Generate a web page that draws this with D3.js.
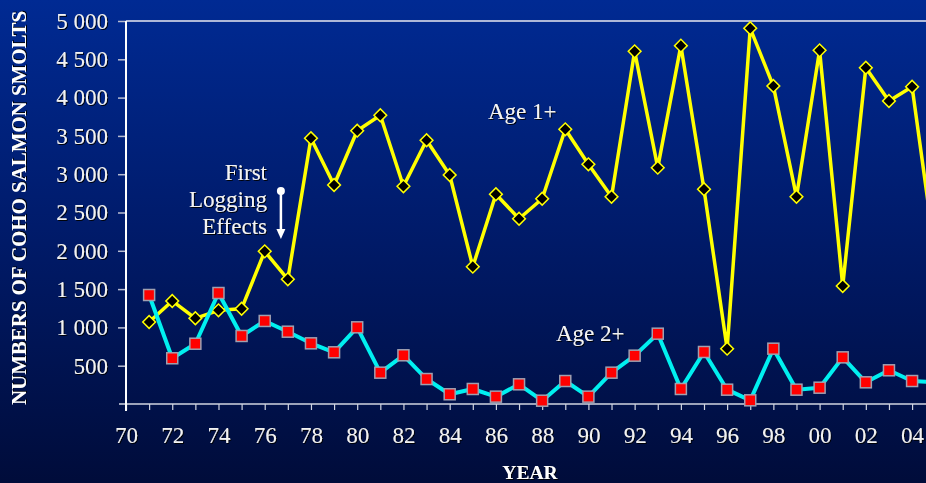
<!DOCTYPE html>
<html>
<head>
<meta charset="utf-8">
<script src="https://cdn.jsdelivr.net/npm/d3@7"></script>
<style>
  html, body { margin: 0; padding: 0; background: #000d3d; overflow: hidden; }
  svg { display: block; font-family: "Liberation Serif", "Times New Roman", serif; }
</style>
</head>
<body>
<script>
//==============================================================================
// DATA
//==============================================================================

const years = [1971, 1972, 1973, 1974, 1975, 1976, 1977, 1978, 1979, 1980,
  1981, 1982, 1983, 1984, 1985, 1986, 1987, 1988, 1989, 1990,
  1991, 1992, 1993, 1994, 1995, 1996, 1997, 1998, 1999, 2000,
  2001, 2002, 2003, 2004, 2005];

const age1 = [1070, 1345, 1119, 1223, 1244, 1993, 1628, 3469, 2859, 3568,
  3769, 2842, 3443, 2990, 1793, 2738, 2419, 2680, 3586, 3129,
  2706, 4604, 3085, 4678, 2803, 722, 4905, 4151, 2706, 4617,
  1540, 4390, 3956, 4142, 1950];

const age2 = [1423, 597, 787, 1449, 888, 1084, 944, 792, 675, 1001,
  409, 636, 326, 127, 196, 96, 257, 43, 300, 96,
  409, 631, 918, 196, 679, 187, 48, 722, 187, 213,
  609, 283, 440, 300, 285];

const yTicks = [500, 1000, 1500, 2000, 2500, 3000, 3500, 4000, 4500, 5000];
const xLabelYears = [1970, 1972, 1974, 1976, 1978, 1980, 1982, 1984, 1986, 1988,
  1990, 1992, 1994, 1996, 1998, 2000, 2002, 2004];
const xMinorYears = [1970, 1971, 1972, 1973, 1974, 1975, 1976, 1977, 1978, 1979,
  1980, 1981, 1982, 1983, 1984, 1985, 1986, 1987, 1988, 1989, 1990, 1991,
  1992, 1993, 1994, 1995, 1996, 1997, 1998, 1999, 2000, 2001, 2002, 2003,
  2004, 2005, 2006];

const annotation = ['First', 'Logging', 'Effects'];

//==============================================================================
// PARAMETERS
//==============================================================================

const W = 926, H = 483;
const plotLeft = 126, plotTop = 21, plotBottom = 404;

const x = d3.scaleLinear().domain([1970, 2006]).range([plotLeft, plotLeft + 36 * 23.12]);
const y = d3.scaleLinear().domain([0, 5000]).range([plotBottom, plotTop]);

const fmt = d3.formatLocale({ decimal: '.', thousands: ' ', grouping: [3], currency: ['', ''] }).format(',');

const svg = d3.select('body').append('svg')
  .attr('width', W)
  .attr('height', H);

const defs = svg.append('defs');
const grad = defs.append('linearGradient')
  .attr('id', 'bg')
  .attr('x1', 0).attr('y1', 0).attr('x2', 0).attr('y2', 1);
grad.append('stop').attr('offset', '0%').attr('stop-color', '#002a93');
grad.append('stop').attr('offset', '50%').attr('stop-color', '#001a68');
grad.append('stop').attr('offset', '100%').attr('stop-color', '#000c3a');

const shadow = defs.append('filter').attr('id', 'shadow')
  .attr('x', '-10%').attr('y', '-10%').attr('width', '130%').attr('height', '130%');
shadow.append('feDropShadow')
  .attr('dx', 1).attr('dy', 1).attr('stdDeviation', 0.6)
  .attr('flood-color', '#000').attr('flood-opacity', 0.9);

svg.append('rect')
  .attr('width', W).attr('height', H)
  .attr('fill', 'url(#bg)');

//==============================================================================
// DRAW
//==============================================================================

// top frame line
svg.append('line')
  .attr('x1', plotLeft).attr('x2', W)
  .attr('y1', plotTop).attr('y2', plotTop)
  .attr('stroke', '#e8e8f0').attr('stroke-width', 1.5);

// y axis
const yAxis = svg.append('g')
  .attr('class', 'axis axis--y')
  .attr('transform', `translate(${plotLeft},0)`)
  .call(d3.axisLeft(y).tickValues(yTicks).tickSize(8).tickPadding(10).tickFormat(fmt));
yAxis.select('.domain').remove();
yAxis.selectAll('.tick line').attr('stroke', '#b8bcd0').attr('stroke-width', 1.5);
yAxis.selectAll('.tick text')
  .attr('fill', '#f2f2f2')
  .style('font-size', '23px')
  .style('font-family', '"Liberation Serif", serif')
  .attr('filter', 'url(#shadow)');

// x axis minor ticks
const xAxis = svg.append('g')
  .attr('class', 'axis axis--x')
  .attr('transform', `translate(0,${plotBottom})`)
  .call(d3.axisBottom(x).tickValues(xMinorYears).tickSize(6).tickFormat(''));
xAxis.select('.domain').remove();
xAxis.selectAll('.tick line').attr('stroke', '#d0d4e0').attr('stroke-width', 1.2);

// x axis labels
const xLabels = svg.append('g')
  .attr('transform', `translate(0,${plotBottom})`)
  .call(d3.axisBottom(x).tickValues(xLabelYears).tickSize(0).tickPadding(23)
    .tickFormat(d => String(d % 100).padStart(2, '0')));
xLabels.select('.domain').remove();
xLabels.selectAll('.tick text')
  .attr('fill', '#f2f2f2')
  .style('font-size', '23px')
  .style('font-family', '"Liberation Serif", serif')
  .attr('filter', 'url(#shadow)');

// axis lines
svg.append('line')
  .attr('x1', 119).attr('x2', W)
  .attr('y1', plotBottom).attr('y2', plotBottom)
  .attr('stroke', '#d0d4e0').attr('stroke-width', 1.5);
svg.append('line')
  .attr('x1', plotLeft).attr('x2', plotLeft)
  .attr('y1', plotTop).attr('y2', plotBottom + 7)
  .attr('stroke', '#ffffff').attr('stroke-width', 2);

// axis titles
svg.append('text')
  .attr('x', 530).attr('y', 479)
  .attr('text-anchor', 'middle')
  .attr('fill', '#ffffff')
  .style('font-size', '19.5px').style('font-weight', 'bold')
  .attr('filter', 'url(#shadow)')
  .text('YEAR');

svg.append('text')
  .attr('transform', `translate(26,${(10 + 406) / 2}) rotate(-90)`)
  .attr('text-anchor', 'middle')
  .attr('fill', '#ffffff')
  .attr('textLength', 394)
  .attr('lengthAdjust', 'spacingAndGlyphs')
  .style('font-size', '20px').style('font-weight', 'bold')
  .attr('filter', 'url(#shadow)')
  .text('NUMBERS OF COHO SALMON SMOLTS');

// series
const plot = svg.append('g');
const line1 = d3.line().x((d, i) => x(years[i])).y(d => y(d));

plot.append('path')
  .datum(age1)
  .attr('fill', 'none')
  .attr('stroke', '#ffff00')
  .attr('stroke-width', 3.5)
  .attr('stroke-linejoin', 'round')
  .attr('d', line1);

plot.append('g')
  .selectAll('rect')
  .data(age1)
  .enter()
  .append('rect')
  .attr('x', -4.5).attr('y', -4.5)
  .attr('width', 9).attr('height', 9)
  .attr('transform', (d, i) => `translate(${x(years[i])},${y(d)}) rotate(45)`)
  .attr('fill', '#000')
  .attr('stroke', '#ffff00')
  .attr('stroke-width', 1.5);

plot.append('path')
  .datum(age2)
  .attr('fill', 'none')
  .attr('stroke', '#00f0f0')
  .attr('stroke-width', 4)
  .attr('stroke-linejoin', 'round')
  .attr('d', line1);

plot.append('g')
  .selectAll('rect')
  .data(age2)
  .enter()
  .append('rect')
  .attr('x', (d, i) => x(years[i]) - 5.5)
  .attr('y', d => y(d) - 5.5)
  .attr('width', 11).attr('height', 11)
  .attr('fill', '#ff0000')
  .attr('stroke', '#a0a0b0')
  .attr('stroke-width', 1.5);

// series labels
svg.append('text')
  .attr('x', 488).attr('y', 119)
  .attr('fill', '#f4f4f4')
  .style('font-size', '23px')
  .attr('filter', 'url(#shadow)')
  .text('Age 1+');

svg.append('text')
  .attr('x', 556).attr('y', 341)
  .attr('fill', '#f4f4f4')
  .style('font-size', '23px')
  .attr('filter', 'url(#shadow)')
  .text('Age 2+');

// annotation
svg.append('g')
  .selectAll('text')
  .data(annotation)
  .enter()
  .append('text')
  .attr('x', 267)
  .attr('y', (d, i) => 180 + i * 27)
  .attr('text-anchor', 'end')
  .attr('fill', '#f4f4f4')
  .style('font-size', '23px')
  .attr('filter', 'url(#shadow)')
  .text(d => d);

const arrowX = x(1976.7);
svg.append('circle')
  .attr('cx', arrowX).attr('cy', 191).attr('r', 4)
  .attr('fill', '#ffffff');
svg.append('line')
  .attr('x1', arrowX).attr('x2', arrowX)
  .attr('y1', 191).attr('y2', 232)
  .attr('stroke', '#ffffff').attr('stroke-width', 2.5);
svg.append('path')
  .attr('d', `M${arrowX - 4.5},229 L${arrowX + 4.5},229 L${arrowX},239 Z`)
  .attr('fill', '#ffffff');
</script>
</body>
</html>
